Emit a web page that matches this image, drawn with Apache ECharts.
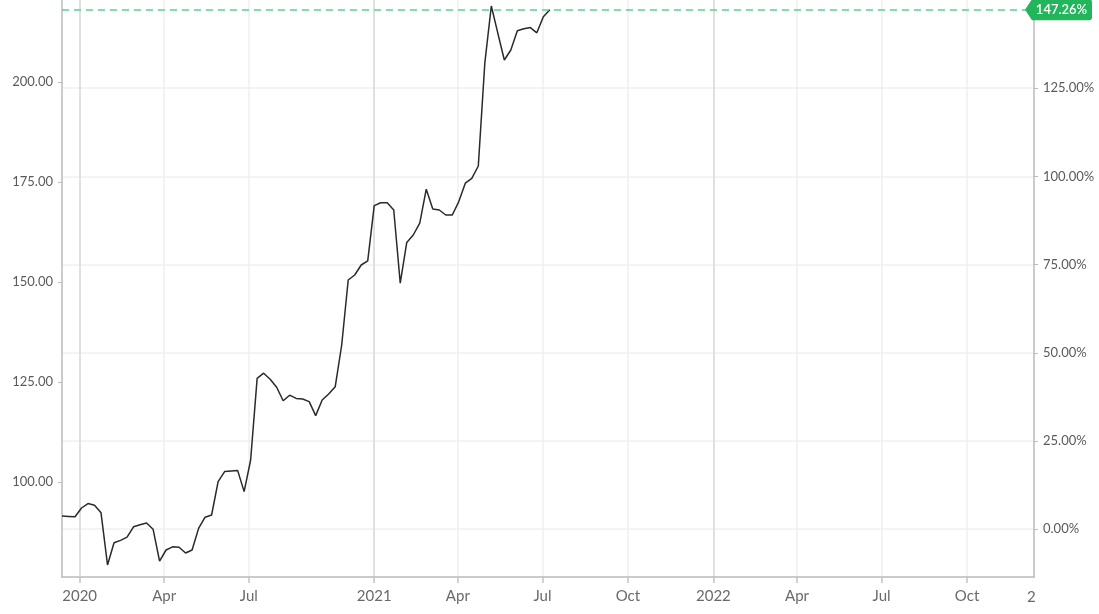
<!DOCTYPE html>
<html><head><meta charset="utf-8">
<script src="https://cdn.jsdelivr.net/npm/echarts@6/dist/echarts.min.js"></script>
<style>html,body{margin:0;padding:0;background:#fff}#c{width:1099px;height:614px}</style>
</head><body><div id="c"></div>
<script>
// ---- data ----
const weekDates = [
 '2019-12-13','2019-12-20','2019-12-27','2020-01-03','2020-01-10','2020-01-17','2020-01-24','2020-01-31',
 '2020-02-07','2020-02-14','2020-02-21','2020-02-28','2020-03-06','2020-03-13','2020-03-20','2020-03-27',
 '2020-04-03','2020-04-10','2020-04-17','2020-04-24','2020-05-01','2020-05-08','2020-05-15','2020-05-22',
 '2020-05-29','2020-06-05','2020-06-12','2020-06-19','2020-06-26','2020-07-03','2020-07-10','2020-07-17',
 '2020-07-24','2020-07-31','2020-08-07','2020-08-14','2020-08-21','2020-08-28','2020-09-04','2020-09-11',
 '2020-09-18','2020-11-13','2020-11-20','2020-11-27','2020-12-04','2020-12-11','2020-12-18','2020-12-25',
 '2021-01-01','2021-01-08','2021-01-15','2021-01-22','2021-01-29','2021-02-05','2021-02-12','2021-02-19',
 '2021-02-26','2021-03-05','2021-03-12','2021-03-19','2021-03-26','2021-04-02','2021-04-09','2021-04-16',
 '2021-04-23','2021-04-30','2021-05-07','2021-05-14','2021-05-21','2021-05-28','2021-06-04','2021-06-11',
 '2021-06-18','2021-06-25','2021-07-02','2021-07-09'
];
const prices = [
 91.5, 91.4, 91.3, 93.5, 94.6, 94.2, 92.3, 79.25,
 84.8, 85.4, 86.2, 88.8, 89.3, 89.75, 88.2, 80.2,
 83.0, 83.8, 83.7, 82.25, 83.0, 88.4, 91.2, 91.75,
 100.1, 102.6, 102.75, 102.9, 97.6, 105.5, 125.9, 127.2,
 125.7, 123.7, 120.3, 121.7, 120.9, 120.75, 120.1, 116.6,
 120.5, 122.0, 123.8, 134.25, 150.5, 151.75, 154.25, 155.3,
 169.1, 169.8, 169.8, 168.0, 149.7, 159.9, 161.75, 164.7,
 173.2, 168.25, 168.0, 166.75, 166.75, 170.1, 174.7, 175.9,
 179.0, 204.7, 219.0, 212.2, 205.5, 208.0, 212.8, 213.3,
 213.6, 212.3, 216.3, 218.08
];
const baseValue = 88.2;
const priceTicks = [100, 125, 150, 175, 200];
const pctTicks = [0, 25, 50, 75, 100, 125];
const quarterTickDates = ['2020-01-01','2020-04-01','2020-07-01','2021-01-01','2021-04-01','2021-07-01',
  '2021-10-01','2022-01-01','2022-04-01','2022-07-01','2022-10-01'];
const quarterTickLabels = ['2020','Apr','Jul','2021','Apr','Jul','Oct','2022','Apr','Jul','Oct'];
const yearTickDates = ['2020-01-01','2021-01-01','2022-01-01'];
const axisEndDate = '2022-12-12';
const priceRange = [76.25, 220.5];

// ---- helpers ----
const WEEK = 7 * 864e5;
const toMs = s => new Date(s + 'T00:00:00Z').getTime();
const wt = weekDates.map(toMs);
function fracIndex(s) {
  const t = toMs(s), n = wt.length;
  if (t <= wt[0]) return (t - wt[0]) / WEEK;
  if (t >= wt[n - 1]) return n - 1 + (t - wt[n - 1]) / WEEK;
  for (let i = 0; i < n - 1; i++) if (t < wt[i + 1]) return i + (t - wt[i]) / (wt[i + 1] - wt[i]);
}
const toPct = v => (v / baseValue - 1) * 100;
const qIdx = quarterTickDates.map(fracIndex);
const yIdx = yearTickDates.map(fracIndex);
const xMax = fracIndex(axisEndDate);
const last = prices[prices.length - 1];
const lastPctText = toPct(last).toFixed(2) + '%';
const FONT = 'Lato';

const chart = echarts.init(document.getElementById('c'), null, {renderer: 'canvas'});
chart.setOption({
  animation: false,
  backgroundColor: '#fff',
  textStyle: {fontFamily: FONT},
  grid: {left: 62, right: 65, top: 0, bottom: 37, outerBoundsMode: 'none', containLabel: false},
  xAxis: [{
    type: 'value', min: 0, max: xMax, position: 'bottom',
    axisLine: {show: true, onZero: false, lineStyle: {color: '#bbb', width: 1.5}},
    axisTick: {show: true, customValues: qIdx, length: 6, lineStyle: {color: '#c4c4c4', width: 1.5}},
    axisLabel: {show: true, customValues: qIdx, fontSize: 15, color: '#6a6a6a', margin: 12, fontFamily: FONT,
      formatter: v => { const j = qIdx.findIndex(q => Math.abs(q - v) < 1e-6); return j >= 0 ? quarterTickLabels[j] : ''; }},
    splitLine: {show: true, lineStyle: {color: '#efefef', width: 1.5}}
  }, {
    type: 'value', min: 0, max: xMax, position: 'bottom',
    axisLine: {show: false, onZero: false},
    axisTick: {show: false, customValues: yIdx},
    axisLabel: {show: false, customValues: yIdx},
    splitLine: {show: true, lineStyle: {color: '#dadada', width: 1.5}}
  }],
  yAxis: [{
    type: 'value', position: 'left', min: priceRange[0], max: priceRange[1],
    axisLine: {show: true, onZero: false, lineStyle: {color: '#bbb', width: 1.5}},
    axisTick: {show: true, customValues: priceTicks, length: 4, lineStyle: {color: '#bbb'}},
    axisLabel: {show: true, customValues: priceTicks, formatter: v => v.toFixed(2), fontSize: 13, color: '#5a5a5a', margin: 9, fontFamily: FONT},
    splitLine: {show: false}
  }, {
    type: 'value', position: 'right', min: toPct(priceRange[0]), max: toPct(priceRange[1]),
    axisLine: {show: true, onZero: false, lineStyle: {color: '#bbb', width: 1.5}},
    axisTick: {show: true, customValues: pctTicks, length: 4, lineStyle: {color: '#bbb'}},
    axisLabel: {show: true, customValues: pctTicks, formatter: v => v.toFixed(2) + '%', fontSize: 13, color: '#5a5a5a', margin: 9, fontFamily: FONT},
    splitLine: {show: true, lineStyle: {color: '#f0f0f0', width: 1.5}}
  }],
  series: [{
    type: 'line', xAxisIndex: 0, yAxisIndex: 0,
    data: prices.map((v, i) => [i, v]),
    showSymbol: false, symbol: 'none', smooth: false,
    lineStyle: {color: '#2a2a2a', width: 1.5},
    markLine: {
      silent: true, symbol: ['none', 'none'],
      data: [{yAxis: last}],
      lineStyle: {color: '#5fd091', type: [7, 5], width: 1.5},
      label: {show: false}
    },
    markPoint: {
      silent: true,
      data: [{coord: [xMax, last], value: lastPctText}],
      symbol: 'path://M0,10.5 L7,0 L64,0 Q67,0 67,3 L67,18 Q67,21 64,21 L7,21 Z',
      symbolSize: [67, 21], symbolKeepAspect: false, symbolOffset: [24.5, 0],
      itemStyle: {color: '#22b55c'},
      label: {show: true, position: 'inside', formatter: lastPctText, color: '#fff', fontSize: 13, fontWeight: 600, fontFamily: FONT, offset: [3, 0]}
    }
  }],
  graphic: [{type: 'text', left: 1027, top: 590, silent: true,
    style: {text: '2', fontSize: 15, fill: '#6a6a6a', fontFamily: FONT}}]
});
</script></body></html>
